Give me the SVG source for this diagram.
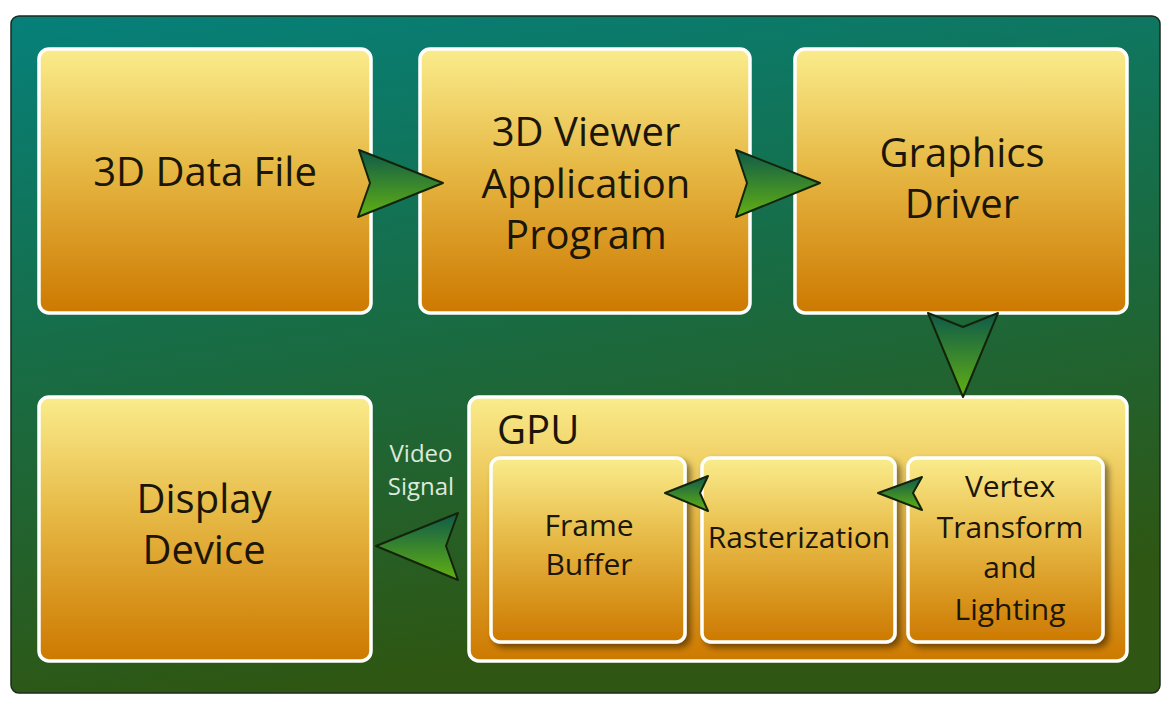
<svg xmlns="http://www.w3.org/2000/svg" width="1169" height="706" viewBox="0 0 1169 706">
<defs>
<linearGradient id="bg" x1="0" y1="0" x2="0.25" y2="1">
<stop offset="0" stop-color="#06807a"/>
<stop offset="0.5" stop-color="#186c44"/>
<stop offset="1" stop-color="#2f5612"/>
</linearGradient>
<linearGradient id="box" x1="0" y1="0" x2="0" y2="1">
<stop offset="0" stop-color="#faec8c"/>
<stop offset="0.45" stop-color="#e6b844"/>
<stop offset="1" stop-color="#cd7900"/>
</linearGradient>
<linearGradient id="arr" x1="0" y1="0" x2="0" y2="1">
<stop offset="0" stop-color="#0e5a4a"/>
<stop offset="1" stop-color="#62b012"/>
</linearGradient>
<filter id="sh" x="-10%" y="-10%" width="130%" height="130%">
<feDropShadow dx="4" dy="4" stdDeviation="3" flood-color="#000" flood-opacity="0.45"/>
</filter>
</defs>
<style>
.box{fill:url(#box);stroke:#fff;stroke-width:3.5}
.arr{fill:url(#arr);stroke:#14240a;stroke-width:2;stroke-linejoin:round}
.t{font-family:"Open Sans","Noto Sans",sans-serif;fill:#1b1608;text-anchor:middle}
.big{font-size:40px}
.sm{font-size:30px}
.lbl{font-family:"Open Sans","Noto Sans",sans-serif;font-size:24px;fill:#dce9dc;text-anchor:middle}
</style>
<rect x="11" y="16" width="1149" height="677" rx="8" fill="url(#bg)" stroke="#1c2a1c" stroke-width="1.5"/>
<g id="data-file">
<rect class="box" x="39" y="49" width="332" height="264" rx="10"/>
<text class="t big" x="205" y="186">3D Data File</text>
</g>
<g id="viewer">
<rect class="box" x="420" y="49" width="330" height="264" rx="10"/>
<text class="t big" x="586" y="146">3D Viewer</text>
<text class="t big" x="586" y="198">Application</text>
<text class="t big" x="586" y="249">Program</text>
</g>
<g id="driver">
<rect class="box" x="795" y="49" width="332" height="264" rx="10"/>
<text class="t big" x="962" y="167">Graphics</text>
<text class="t big" x="962" y="218">Driver</text>
</g>
<g id="display">
<rect class="box" x="39" y="397" width="332" height="264" rx="10"/>
<text class="t big" x="204" y="513">Display</text>
<text class="t big" x="204" y="564">Device</text>
</g>
<g id="gpu">
<rect class="box" x="469" y="397" width="658" height="264" rx="10"/>
<text class="t big" x="497" y="444" style="text-anchor:start">GPU</text>
</g>
<g id="frame-buffer">
<rect class="box" x="491" y="458" width="194" height="184" rx="9" filter="url(#sh)"/>
<text class="t sm" x="589" y="536">Frame</text>
<text class="t sm" x="589" y="575">Buffer</text>
</g>
<g id="rasterization">
<rect class="box" x="702" y="458" width="193" height="184" rx="9" filter="url(#sh)"/>
<text class="t sm" x="799" y="548">Rasterization</text>
</g>
<g id="vertex">
<rect class="box" x="908" y="458" width="195" height="184" rx="9" filter="url(#sh)"/>
<text class="t sm" x="1010" y="497">Vertex</text>
<text class="t sm" x="1010" y="538">Transform</text>
<text class="t sm" x="1010" y="578">and</text>
<text class="t sm" x="1010" y="620">Lighting</text>
</g>
<g id="connectors">
<path class="arr" d="M359,150 L443,183 L358,217 L370,183 Z"/>
<path class="arr" d="M736,150 L820,183 L736,217 L747,183 Z"/>
<path class="arr" d="M928,313 L963,327 L998,313 L963,397 Z"/>
<path class="arr" d="M458,513 L446,546 L458,580 L376,546 Z"/>
<path class="arr" d="M708,476 L700,493 L708,511 L665,493 Z"/>
<path class="arr" d="M922,477 L913,493 L922,510 L878,493 Z"/>
<text class="lbl" x="421" y="462">Video</text>
<text class="lbl" x="421" y="495">Signal</text>
</g>
</svg>
